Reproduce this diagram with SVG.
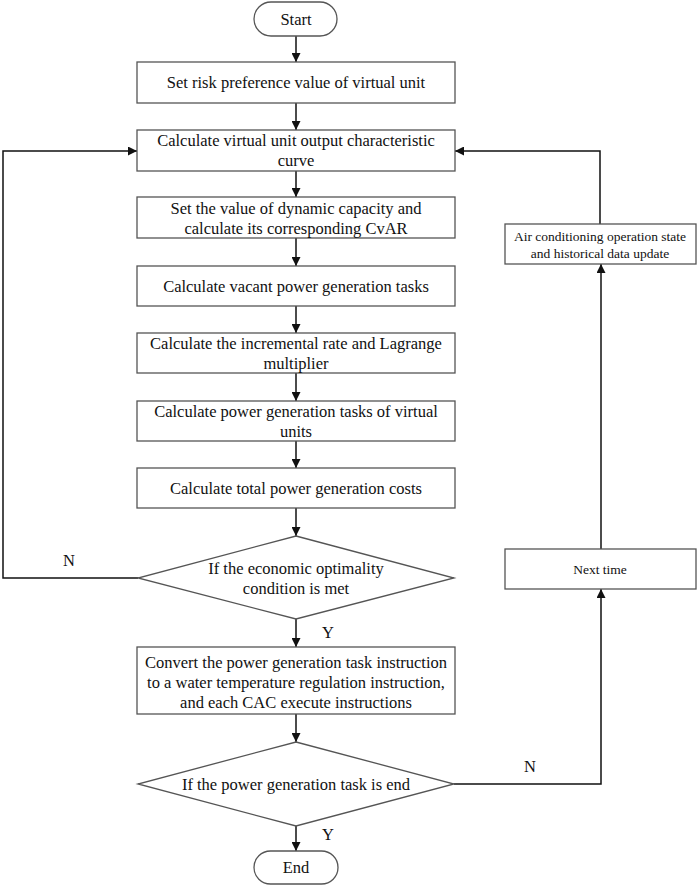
<svg xmlns="http://www.w3.org/2000/svg" width="699" height="888" viewBox="0 0 699 888">
<style>
.n{fill:#fff;stroke:#555;stroke-width:1.3}
.t{font-family:"Liberation Serif","Times New Roman",serif;font-size:16.5px;fill:#111;text-anchor:middle;dominant-baseline:central}
.s{font-size:13.5px}
.c{fill:none;stroke:#111;stroke-width:1.5}
</style>
<defs>
<marker id="a" viewBox="0 0 10 10" refX="10" refY="5" markerWidth="9" markerHeight="9" markerUnits="userSpaceOnUse" orient="auto">
<path d="M0,0 L10,5 L0,10 z" fill="#111"/>
</marker>
</defs>
<rect width="699" height="888" fill="#fff"/>
<g id="connectors">
<line class="c" x1="296" y1="36" x2="296" y2="62" marker-end="url(#a)"/>
<line class="c" x1="296" y1="103" x2="296" y2="130" marker-end="url(#a)"/>
<line class="c" x1="296" y1="171" x2="296" y2="197" marker-end="url(#a)"/>
<line class="c" x1="296" y1="238" x2="296" y2="266" marker-end="url(#a)"/>
<line class="c" x1="296" y1="306" x2="296" y2="333" marker-end="url(#a)"/>
<line class="c" x1="296" y1="373" x2="296" y2="401" marker-end="url(#a)"/>
<line class="c" x1="296" y1="441" x2="296" y2="468" marker-end="url(#a)"/>
<line class="c" x1="296" y1="508" x2="296" y2="536" marker-end="url(#a)"/>
<line class="c" x1="296" y1="619" x2="296" y2="647" marker-end="url(#a)"/>
<line class="c" x1="296" y1="714" x2="296" y2="742" marker-end="url(#a)"/>
<line class="c" x1="296" y1="826" x2="296" y2="851" marker-end="url(#a)"/>
<polyline class="c" points="138,578 3,578 3,151 137,151" marker-end="url(#a)"/>
<polyline class="c" points="454,784 601,784 601,589" marker-end="url(#a)"/>
<line class="c" x1="601" y1="549" x2="601" y2="264" marker-end="url(#a)"/>
<polyline class="c" points="600,224 600,151 455,151" marker-end="url(#a)"/>
<text class="t" x="69" y="560">N</text>
<text class="t" x="328" y="632">Y</text>
<text class="t" x="530" y="766">N</text>
<text class="t" x="328" y="834">Y</text>
</g>
<g id="start">
<rect class="n" x="254" y="2" width="83" height="34" rx="17"/>
<text class="t" x="296" y="19">Start</text>
</g>
<g id="box1">
<rect class="n" x="137" y="62" width="318" height="41"/>
<text class="t" x="296" y="82.5">Set risk preference value of virtual unit</text>
</g>
<g id="box2">
<rect class="n" x="137" y="130" width="318" height="41"/>
<text class="t" x="296" y="140">Calculate virtual unit output characteristic</text>
<text class="t" x="296" y="160">curve</text>
</g>
<g id="box3">
<rect class="n" x="137" y="197" width="318" height="41"/>
<text class="t" x="296" y="208">Set the value of dynamic capacity and</text>
<text class="t" x="296" y="228">calculate its corresponding CvAR</text>
</g>
<g id="box4">
<rect class="n" x="137" y="266" width="318" height="40"/>
<text class="t" x="296" y="286">Calculate vacant power generation tasks</text>
</g>
<g id="box5">
<rect class="n" x="137" y="333" width="318" height="40"/>
<text class="t" x="296" y="343">Calculate the incremental rate and Lagrange</text>
<text class="t" x="296" y="363">multiplier</text>
</g>
<g id="box6">
<rect class="n" x="137" y="401" width="318" height="40"/>
<text class="t" x="296" y="411">Calculate power generation tasks of virtual</text>
<text class="t" x="296" y="431">units</text>
</g>
<g id="box7">
<rect class="n" x="137" y="468" width="318" height="40"/>
<text class="t" x="296" y="488">Calculate total power generation costs</text>
</g>
<g id="decision1">
<polygon class="n" points="296,536 454,578 296,619 138,578"/>
<text class="t" x="296" y="568">If the economic optimality</text>
<text class="t" x="296" y="588">condition is met</text>
</g>
<g id="box8">
<rect class="n" x="137" y="647" width="318" height="67"/>
<text class="t" x="296" y="662">Convert the power generation task instruction</text>
<text class="t" x="296" y="682">to a water temperature regulation instruction,</text>
<text class="t" x="296" y="702">and each CAC execute instructions</text>
</g>
<g id="decision2">
<polygon class="n" points="296,742 454,784 296,826 138,784"/>
<text class="t" x="296" y="784">If the power generation task is end</text>
</g>
<g id="end">
<rect class="n" x="254" y="851" width="84" height="33" rx="16.5"/>
<text class="t" x="296" y="867.5">End</text>
</g>
<g id="update">
<rect class="n" x="505" y="224" width="191" height="40"/>
<text class="t s" x="600" y="236">Air conditioning operation state</text>
<text class="t s" x="600" y="253">and historical data update</text>
</g>
<g id="next">
<rect class="n" x="505" y="549" width="191" height="40"/>
<text class="t s" x="600" y="569">Next time</text>
</g>
</svg>
